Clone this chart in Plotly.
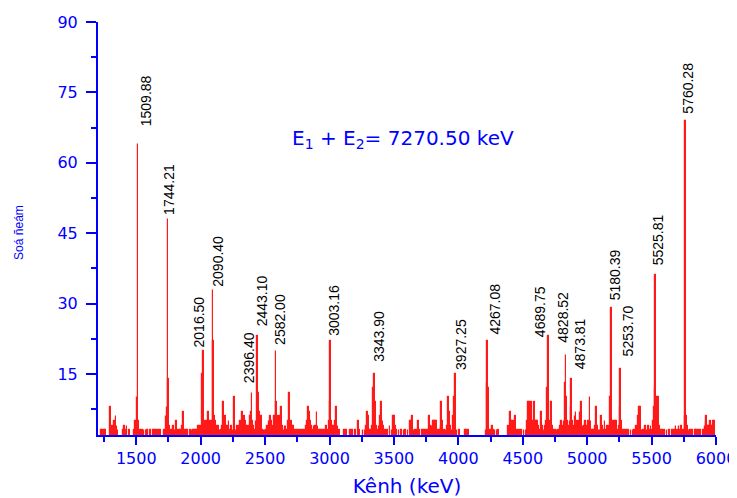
import plotly.graph_objects as go

# ---------------- data ----------------
x_range_keV = [1203, 6000]
y_range_counts = [2, 90]

# background / side bins of the spectrum (energy in keV, counts)
bg_energy_keV = (
    [1232, 1240, 1252, 1264, 1298, 1305, 1312, 1326, 1334, 1342, 1350, 1358, 1402, 1410, 1418, 1428, 1445, 1485, 1497, 1505, 1520]
    + [1534, 1548, 1560, 1575, 1588, 1612, 1632, 1648, 1660, 1672, 1686, 1722, 1730, 1738, 1752, 1758]
    + [1776, 1790, 1800, 1808, 1815, 1822, 1835, 1846, 1858, 1867, 1874, 1890, 1900, 1919, 1932, 1945, 1958, 1970, 1986, 1998]
    + [2006, 2016, 2030, 2038, 2046, 2054, 2061, 2068, 2076, 2084, 2100, 2106, 2114, 2122, 2130, 2140, 2150, 2160, 2170, 2177,
       2184, 2192, 2200, 2210, 2220, 2230, 2240, 2250]
    + [2260, 2266, 2274, 2284, 2292, 2300, 2310, 2318, 2327, 2334, 2342, 2350, 2358, 2366, 2378, 2385, 2392, 2405, 2412, 2420,
       2430, 2447, 2455, 2462, 2470, 2475, 2482, 2492]
    + [2500, 2510, 2520, 2530, 2540, 2550, 2560, 2570, 2578, 2590, 2598, 2606, 2614, 2622, 2630, 2638, 2646, 2654, 2662,
       2672, 2680, 2687, 2694, 2702, 2710, 2720, 2730, 2745]
    + [2760, 2775, 2790, 2805, 2822, 2830, 2837, 2844, 2852, 2860, 2870, 2880, 2890, 2902, 2910, 2920, 2930, 2945, 2960, 2979,
       2990, 2998]
    + [3010, 3016, 3022, 3030, 3038, 3045, 3052, 3058, 3066, 3080, 3114, 3130, 3160, 3180, 3200, 3225, 3232, 3260, 3275, 3290,
       3297, 3304, 3312, 3320, 3332, 3343, 3355, 3362, 3370, 3385, 3393, 3401, 3408, 3415, 3422, 3432, 3450, 3470, 3485, 3496]
    + [3502, 3510, 3520, 3540, 3560, 3578, 3590, 3610, 3626, 3634, 3640, 3647, 3655, 3665, 3680, 3690, 3700, 3720,
       3735, 3750, 3768, 3776, 3785, 3795, 3807, 3815, 3822, 3828, 3840, 3855, 3865, 3872, 3880, 3890, 3905, 3915, 3923, 3930,
       3940, 3950, 3962, 3969, 3981, 3990, 4010, 4053, 4066, 4078]
    + [4215, 4222, 4233, 4250, 4267, 4275, 4285, 4300, 4312, 4390, 4402, 4410, 4418, 4426, 4434, 4441, 4448, 4460, 4475, 4490]
    + [4510, 4525, 4538, 4544, 4552, 4560, 4570, 4578, 4590, 4596, 4605, 4615, 4625, 4635, 4647, 4655, 4665, 4675, 4684, 4692,
       4704, 4712, 4718, 4725, 4732, 4740, 4752, 4765, 4778, 4790, 4800, 4810, 4820, 4830, 4842, 4850, 4858, 4866, 4874, 4887,
       4895, 4906, 4914, 4922, 4930, 4938, 4945, 4953, 4960, 4968, 4980, 4990]
    + [5000, 5010, 5022, 5030, 5040, 5050, 5062, 5074, 5082, 5092, 5100, 5113, 5120, 5128, 5139, 5148, 5158, 5168, 5176, 5181,
       5192, 5198, 5204, 5212, 5222, 5230, 5238, 5248, 5254, 5266, 5275, 5290, 5305, 5320, 5340, 5355, 5370, 5385, 5398, 5405,
       5411, 5418, 5425, 5440, 5455, 5465, 5475, 5485, 5495]
    + [5505, 5515, 5520, 5526, 5538, 5545, 5553, 5560, 5570, 5585, 5600, 5620, 5640, 5660, 5680, 5690, 5700, 5712,
       5722, 5734, 5745, 5759, 5771, 5780, 5790, 5805, 5820, 5838, 5850, 5865, 5880, 5900, 5915, 5922, 5928, 5935, 5942, 5950,
       5958, 5965, 5972, 5979, 5987]
)
bg_counts = (
    [3, 3, 3, 3, 8, 4, 3, 4, 5, 6, 4, 3, 3, 4, 3, 4, 3, 3, 5, 10, 5]
    + [3, 3, 3, 3, 3, 3, 3, 3, 3, 3, 3, 3, 6, 8, 14, 4]
    + [3, 4, 3, 3, 5, 3, 3, 3, 4, 7, 3, 3, 3, 3, 3, 3, 3, 3, 4, 4]
    + [3, 15, 4, 5, 4, 5, 7, 5, 4, 5, 22, 6, 5, 4, 3, 4, 3, 3, 4, 9,
       5, 6, 4, 4, 5, 3, 4, 3]
    + [10, 4, 3, 4, 3, 4, 5, 4, 7, 5, 6, 5, 4, 4, 4, 6, 7, 5, 4, 3,
       5, 11, 7, 4, 3, 6, 3, 3]
    + [3, 3, 4, 5, 6, 5, 4, 6, 5, 9, 6, 4, 6, 5, 8, 4, 3, 4, 4,
       3, 5, 11, 8, 5, 4, 4, 3, 3]
    + [3, 3, 3, 3, 4, 5, 8, 7, 5, 4, 3, 4, 4, 7, 4, 3, 3, 3, 3, 4,
       3, 5]
    + [9, 5, 4, 4, 3, 5, 8, 4, 4, 3, 3, 3, 3, 3, 3, 5, 3, 3, 3, 4,
       7, 6, 3, 3, 4, 12, 9, 4, 3, 4, 6, 9, 6, 5, 4, 3, 3, 4, 3, 6]
    + [6, 4, 3, 3, 3, 3, 3, 3, 5, 5, 5, 6, 3, 3, 3, 5, 3, 3,
       3, 3, 3, 6, 4, 4, 5, 5, 5, 5, 3, 3, 4, 9, 5, 3, 3, 4, 10, 7,
       4, 3, 6, 10, 8, 3, 3, 3, 3, 3]
    + [3, 13, 12, 3, 4, 3, 3, 3, 3, 4, 7, 5, 5, 4, 5, 6, 4, 3, 3, 3]
    + [3, 3, 5, 9, 9, 5, 9, 5, 9, 5, 5, 5, 4, 3, 7, 4, 3, 4, 5, 12,
       5, 4, 5, 9, 4, 3, 3, 3, 3, 4, 5, 4, 5, 13, 10, 5, 4, 5, 8, 5,
       4, 6, 7, 5, 4, 5, 7, 9, 5, 4, 4, 5]
    + [4, 5, 10, 5, 3, 3, 4, 8, 4, 3, 3, 6, 4, 3, 5, 3, 4, 3, 4, 10,
       15, 4, 5, 4, 5, 5, 3, 4, 8, 5, 3, 3, 3, 3, 3, 3, 3, 4, 6, 8,
       8, 5, 3, 3, 4, 3, 4, 3, 4]
    + [3, 5, 8, 12, 10, 6, 10, 4, 3, 3, 3, 3, 3, 3, 3, 4, 3, 4,
       3, 4, 3, 6, 6, 4, 3, 3, 3, 3, 3, 3, 3, 3, 4, 5, 6, 4, 4, 4,
       5, 4, 4, 5, 5]
)
assert len(bg_energy_keV) == len(bg_counts)

# labelled peaks: position in the plotted spectrum and height
peak_energy_keV = [1513, 1746, 2022, 2095, 2398, 2441, 2584, 3005, 3349, 3975, 4228, 4697, 4836, 4880, 5186, 5260, 5532, 5765]
peak_counts = [64, 48, 20, 33, 11, 23, 20, 22, 15, 15, 22, 23, 19, 14, 29, 16, 36, 69]
# label texts, label centre (keV) and label base (counts), as placed in the picture
peak_labels = ["1509.88", "1744.21", "2016.50", "2090.40", "2396.40", "2443.10", "2582.00", "3003.16", "3343.90",
               "3927.25", "4267.08", "4689.75", "4828.52", "4873.81", "5180.39", "5253.70", "5525.81", "5760.28"]
label_x_keV = [1573, 1759, 1986, 2128, 2374, 2475, 2617, 3034, 3385, 4019, 4286, 4629, 4815, 4945, 5217, 5320, 5553, 5785]
label_base_counts = [67.4, 48.5, 20.3, 33.1, 12.7, 24.8, 20.7, 22.8, 17.1, 15.5, 22.9, 22.4, 21.2, 15.5, 30.2, 18.3, 37.7, 70.0]

x_title = "Kênh (keV)"
y_title = "Soá ñeám"
sum_text = "E<sub>1</sub> + E<sub>2</sub>= 7270.50 keV"
sum_pos = [3568, 65.1]

x_tick0, x_dtick, x_minor_dtick = 1500, 500, 250
y_tick0, y_dtick, y_minor_dtick = 0, 15, 7.5

# ---------------- figure ----------------
BLUE = "#0000ff"
BLUE_FONT = "DejaVu Sans, Verdana, sans-serif"
ARIAL = "Liberation Sans, Arial, sans-serif"

all_e = bg_energy_keV + peak_energy_keV
all_c = bg_counts + peak_counts

fig = go.Figure()
fig.add_trace(go.Bar(
    x=all_e, y=all_c, width=6,
    marker=dict(color="#ff0000", line=dict(color="#ff1a1a", width=1.2)),
    hoverinfo="x+y",
))

annotations = []
for lx, lab, yb in zip(label_x_keV, peak_labels, label_base_counts):
    annotations.append(dict(
        x=lx, y=yb, xref="x", yref="y", text=lab, textangle=-90,
        xanchor="center", yanchor="bottom", showarrow=False,
        font=dict(family=ARIAL, size=14, color="black"),
    ))
annotations.append(dict(
    x=sum_pos[0], y=sum_pos[1], xref="x", yref="y", text=sum_text, showarrow=False,
    xanchor="center", yanchor="middle",
    font=dict(family=BLUE_FONT, size=20, color=BLUE),
))
# y-axis title
annotations.append(dict(
    x=-0.129, y=0.49, xref="paper", yref="paper", text=y_title, textangle=-90, showarrow=False,
    xanchor="center", yanchor="middle",
    font=dict(family=ARIAL, size=12, color=BLUE),
))

# the page body adds an 8 px offset, so the figure is 8 px smaller than the window
fig.update_layout(
    width=729, height=490,
    margin=dict(l=90, r=21, t=14, b=63),
    paper_bgcolor="white", plot_bgcolor="white",
    showlegend=False,
    annotations=annotations,
    bargap=0,
)
fig.update_xaxes(
    range=x_range_keV, showline=True, linecolor=BLUE, linewidth=2, mirror=False, automargin=False,
    showgrid=False, zeroline=False,
    ticks="outside", tick0=x_tick0, dtick=x_dtick, ticklen=8, tickwidth=2, tickcolor=BLUE,
    tickfont=dict(family=BLUE_FONT, size=16, color=BLUE),
    minor=dict(ticks="outside", tick0=x_minor_dtick, dtick=x_minor_dtick, ticklen=5, tickwidth=2,
               tickcolor=BLUE, showgrid=False),
    title=dict(text=x_title, font=dict(family=BLUE_FONT, size=20, color=BLUE), standoff=12),
)
fig.update_yaxes(
    range=y_range_counts, showline=True, linecolor=BLUE, linewidth=2, mirror=False, automargin=False,
    showgrid=False, zeroline=False,
    ticks="outside", tick0=y_tick0, dtick=y_dtick, ticklen=10, tickwidth=2, tickcolor=BLUE,
    ticklabelstandoff=5,
    tickfont=dict(family=BLUE_FONT, size=16, color=BLUE),
    minor=dict(ticks="outside", tick0=y_tick0, dtick=y_minor_dtick, ticklen=5, tickwidth=2,
               tickcolor=BLUE, showgrid=False),
)

fig.write_html("out.html")
